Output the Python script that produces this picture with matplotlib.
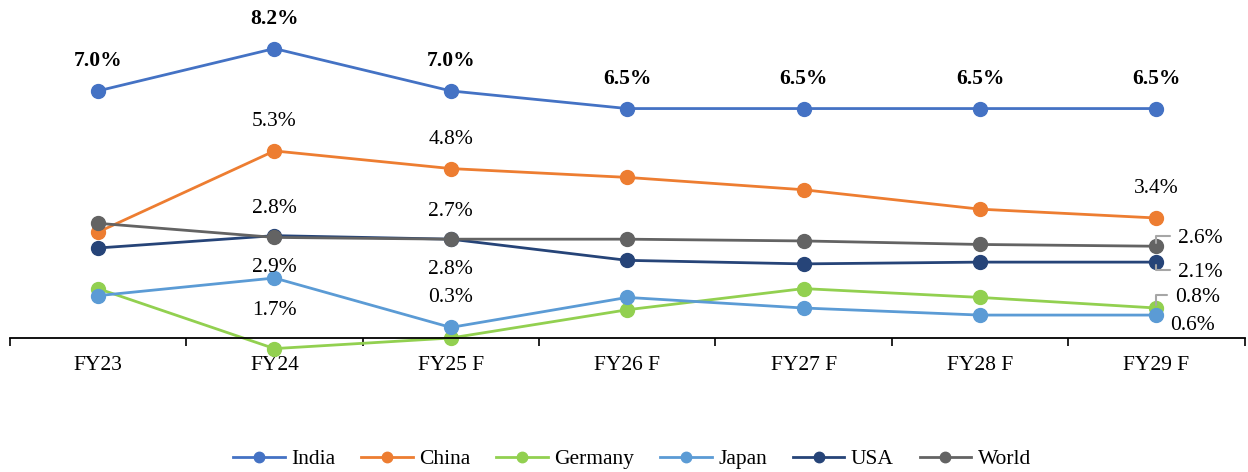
import matplotlib
matplotlib.use("Agg")
import matplotlib.pyplot as plt
import numpy as np

plt.rcParams['font.family'] = ['Liberation Serif', 'DejaVu Serif']

years = ["FY23", "FY24", "FY25 F", "FY26 F", "FY27 F", "FY28 F", "FY29 F"]
india = [7.0, 8.2, 7.0, 6.5, 6.5, 6.5, 6.5]
china = [3.0, 5.3, 4.8, 4.55, 4.2, 3.65, 3.4]
germany = [1.4, -0.3, 0.0, 0.8, 1.4, 1.15, 0.85]
japan = [1.2, 1.7, 0.3, 1.15, 0.85, 0.65, 0.65]
usa = [2.55, 2.9, 2.8, 2.2, 2.1, 2.15, 2.15]
world = [3.25, 2.85, 2.8, 2.8, 2.75, 2.65, 2.6]

series = [("India", india, "#4472C4"),
          ("China", china, "#ED7D31"),
          ("Germany", germany, "#92D050"),
          ("Japan", japan, "#5B9BD5"),
          ("USA", usa, "#264478"),
          ("World", world, "#636363")]

# (series name, index, text, dx px, dy px, bold)
labels = [("India", i, "%.1f%%" % v, 0, 30, True) for i, v in enumerate(india)]
labels += [("China", 1, "5.3%", 0, 29, False),
           ("China", 2, "4.8%", 0, 29, False),
           ("China", 6, "3.4%", 0, 29, False),
           ("USA", 1, "2.8%", 0, 27, False),
           ("World", 1, "2.9%", 0, -30, False),
           ("Japan", 1, "1.7%", 0, -32, False),
           ("USA", 2, "2.7%", 0, 28, False),
           ("World", 2, "2.8%", 0, -30, False),
           ("Japan", 2, "0.3%", 0, 30, False)]
# right-side labels with leader lines
side = [("World", "2.6%", 22, 8, True),
        ("USA", "2.1%", 22, -10, True),
        ("Germany", "0.8%", 19, 11, True),
        ("Japan", "0.6%", 14, -10, False)]

fs = 15.5
fig = plt.figure(figsize=(12.48, 4.72), dpi=100)
ax = fig.add_axes([9.8/1248, (472-359.2)/472, 1234.8/1248, (359.2-20.3)/472])
x = np.arange(len(years))
data = {}
for name, vals, col in series:
    ax.plot(x, vals, color=col, lw=2.0, marker="o", ms=10, label=name)
    data[name] = vals

for name, i, txt, dx, dy, bold in labels:
    ax.annotate(txt, (x[i], data[name][i]), xytext=(dx, dy), textcoords="offset pixels",
                ha="center", va="center", fontsize=fs,
                fontweight="bold" if bold else "normal")

last = len(years) - 1
for name, txt, dx, dy, lead in side:
    ap = None
    if lead:
        ap = dict(arrowstyle="-", color="#A6A6A6", lw=1.5, relpos=(0, 0.6),
                  connectionstyle="angle,angleA=0,angleB=90,rad=0",
                  shrinkA=4, shrinkB=2)
    ax.annotate(txt, (x[last], data[name][last]), xytext=(dx, dy), textcoords="offset pixels",
                ha="left", va="center", fontsize=fs, arrowprops=ap)

ax.set_xlim(-0.5, len(years) - 0.5)
ax.set_ylim(-0.6, 9.0)
for s in ["top", "left", "right"]:
    ax.spines[s].set_visible(False)
ax.spines["bottom"].set_position(("data", 0))
ax.spines["bottom"].set_linewidth(1.3)
ax.set_yticks([])
ax.set_xticks(np.arange(-0.5, len(years), 1.0))
ax.set_xticklabels([])
ax.set_xticks(x, minor=True)
ax.set_xticklabels(years, minor=True, fontsize=fs)
ax.tick_params(axis="x", which="major", direction="out", length=6, width=1.2)
ax.tick_params(axis="x", which="minor", length=0, pad=13)
ax.patch.set_alpha(0)

fig.legend(loc="center", bbox_to_anchor=(0.5 + 8/1248, (472-459)/472), ncol=6, frameon=False,
           fontsize=fs, handlelength=2.4, columnspacing=1.2, handletextpad=0.3,
           markerscale=0.75)

fig.savefig("out.png", dpi=100)
